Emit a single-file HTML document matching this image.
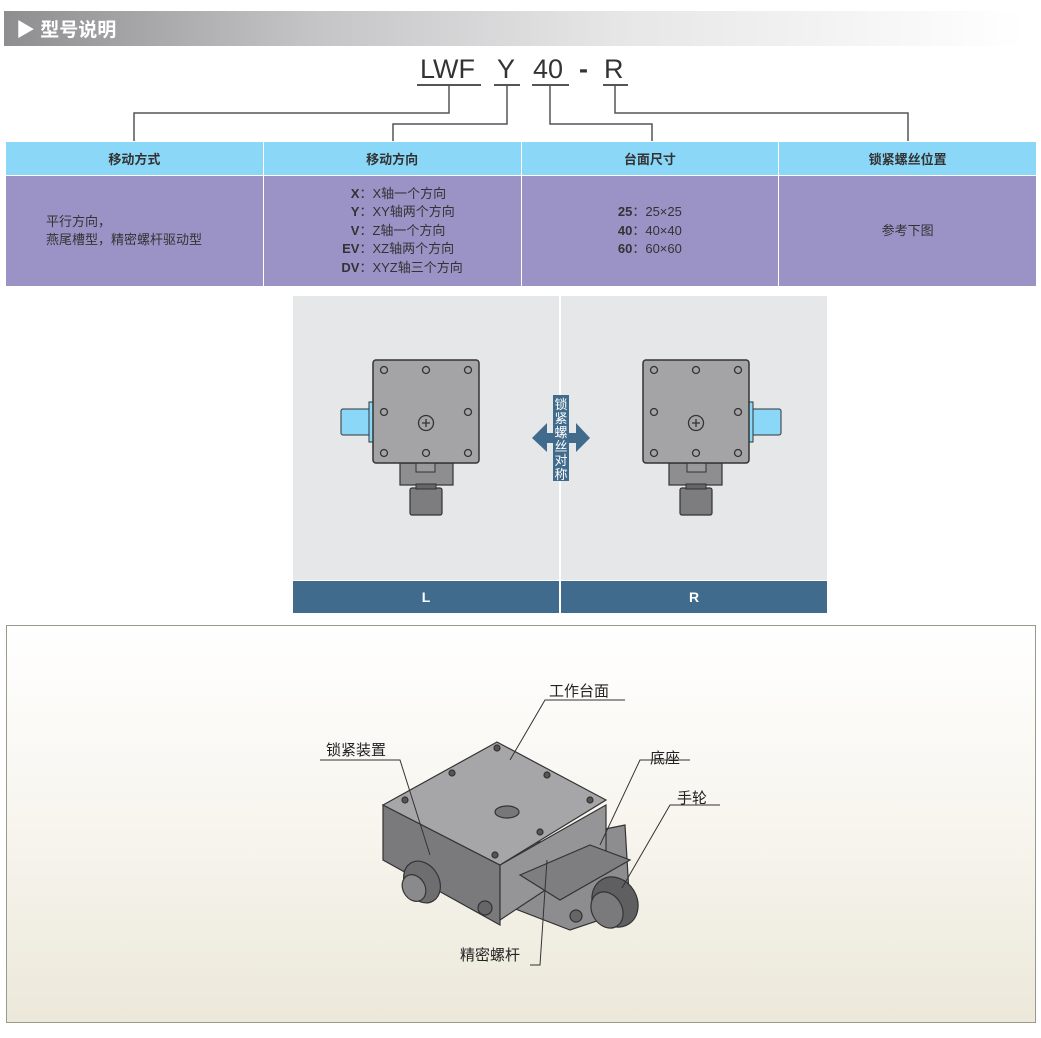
<!DOCTYPE html>
<html><head><meta charset="utf-8"><style>
body{margin:0;width:1041px;height:1038px;background:#fff;font-family:"Liberation Sans","Noto Sans CJK SC",sans-serif;position:relative;overflow:hidden}
.a{position:absolute}
.hdr{left:4px;top:11px;width:1020px;height:35px;background:linear-gradient(90deg,#8e8e90 0%,#c4c4c6 30%,#e6e6e7 60%,#fff 100%)}
.hdr span{position:absolute;left:12px;top:4px;color:#fff;font-size:19px;font-weight:bold}
.code{top:54px;font-size:27px;color:#333;font-family:"Liberation Sans",sans-serif}
.ln{background:#555}
table{position:absolute;left:5px;top:141px;border-collapse:collapse;width:1032px}
td{border:1px solid #fff;text-align:center;font-size:13px;color:#333;width:25%;padding:0}
tr.h td{background:#8ad7f7;height:33px;font-weight:bold;font-size:13px}
tr.b td{background:#9b93c6;height:110px;line-height:18.5px}
</style></head><body>
<div class="a hdr"><span>▶ 型号说明</span></div>
<div class="a code" style="left:420px">LWF</div>
<div class="a code" style="left:497px">Y</div>
<div class="a code" style="left:533px">40</div>
<div class="a code" style="left:579px;font-weight:bold">-</div>
<div class="a code" style="left:604px">R</div>
<div class="a ln" style="left:417px;top:84px;width:64px;height:2px"></div>
<div class="a ln" style="left:494px;top:84px;width:26px;height:2px"></div>
<div class="a ln" style="left:532px;top:84px;width:37px;height:2px"></div>
<div class="a ln" style="left:603px;top:84px;width:25px;height:2px"></div>
<svg class="a" style="left:0;top:0" width="1041" height="145"><g stroke="#555" stroke-width="1.5" fill="none">
<polyline points="449,85 449,113 134,113 134,142"/>
<polyline points="507,85 507,124 393,124 393,142"/>
<polyline points="550,85 550,124 652,124 652,142"/>
<polyline points="615,85 615,113 908,113 908,142"/>
</g></svg>
<table>
<tr class="h"><td>移动方式</td><td>移动方向</td><td>台面尺寸</td><td>锁紧螺丝位置</td></tr>
<tr class="b"><td style="text-align:left;padding-left:40px">平行方向，<br>燕尾槽型，精密螺杆驱动型</td>
<td><div style="display:inline-block;text-align:left"><b style="display:inline-block;width:38px;text-align:right">X</b>：X轴一个方向<br><b style="display:inline-block;width:38px;text-align:right">Y</b>：XY轴两个方向<br><b style="display:inline-block;width:38px;text-align:right">V</b>：Z轴一个方向<br><b style="display:inline-block;width:38px;text-align:right">EV</b>：XZ轴两个方向<br><b style="display:inline-block;width:38px;text-align:right">DV</b>：XYZ轴三个方向</div></td>
<td><b>25</b>：25×25<br><b>40</b>：40×40<br><b>60</b>：60×60</td><td>参考下图</td></tr>
</table>
<div class="a" style="left:293px;top:296px;width:266px;height:284px;background:#e6e7e9"></div>
<div class="a" style="left:561px;top:296px;width:266px;height:284px;background:#e6e7e9"></div>
<div class="a" style="left:293px;top:581px;width:266px;height:32px;background:#416b8d;color:#fff;font-weight:bold;font-size:14px;text-align:center;line-height:32px">L</div>
<div class="a" style="left:561px;top:581px;width:266px;height:32px;background:#416b8d;color:#fff;font-weight:bold;font-size:14px;text-align:center;line-height:32px">R</div>
<svg class="a" style="left:290px;top:295px" width="540" height="320">
<defs><g id="st">
<rect x="110" y="168" width="53" height="22" fill="#8e8e90" stroke="#333" stroke-width="1.2"/>
<rect x="126" y="168" width="19" height="9" fill="#9a9a9c" stroke="#333"/>
<rect x="120" y="193" width="32" height="27" rx="2" fill="#7d7d80" stroke="#333" stroke-width="1.2"/>
<rect x="126" y="189" width="20" height="5" fill="#666" stroke="#333"/>
<rect x="51" y="114" width="30" height="26" rx="2" fill="#8ad7f7" stroke="#333"/>
<rect x="79" y="107" width="5" height="40" fill="#8ad7f7" stroke="#333"/>
<rect x="83" y="65" width="106" height="103" rx="3" fill="#a4a4a7" stroke="#333" stroke-width="1.5"/>
<g fill="none" stroke="#333" stroke-width="1.3">
<circle cx="94" cy="75" r="3.5"/><circle cx="136" cy="75" r="3.5"/><circle cx="178" cy="75" r="3.5"/>
<circle cx="94" cy="117" r="3.5"/><circle cx="178" cy="117" r="3.5"/>
<circle cx="94" cy="158" r="3.5"/><circle cx="136" cy="158" r="3.5"/><circle cx="178" cy="158" r="3.5"/>
<circle cx="136" cy="128" r="7.5"/><path d="M132 128h8M136 124v8"/></g>
</g></defs>
<use href="#st"/>
<g transform="translate(542 0) scale(-1 1)"><use href="#st"/></g>
<polygon points="242,143 257,128 257,138 286,138 286,128 300,143 286,157 286,148 257,148 257,157" fill="#416b8d"/>
<rect x="263" y="100" width="16" height="86" fill="#416b8d"/>
<g fill="#fff" font-size="13" text-anchor="middle">
<text x="271" y="114">锁</text><text x="271" y="128">紧</text><text x="271" y="142">螺</text>
<text x="271" y="156">丝</text><text x="271" y="170">对</text><text x="271" y="184">称</text></g>
</svg>
<div class="a" style="left:6px;top:625px;width:1028px;height:396px;border:1px solid #9a9a8a;background:linear-gradient(180deg,#fff 0%,#f7f5ee 50%,#ece8da 100%)"></div>
<svg class="a" style="left:0;top:620px" width="1041" height="400">
<g stroke="#333" stroke-width="1.2">
<polygon points="500,230 625,205 630,290 570,310 505,285" fill="#8d8d90"/>
<polygon points="383,185 500,245 500,305 383,240" fill="#7a7a7d"/>
<polygon points="500,245 606,185 606,230 500,300" fill="#959598"/>
<polygon points="383,185 497,122 606,180 500,245" fill="#a6a6a9"/>
<ellipse cx="507" cy="192" rx="12" ry="6" fill="#777"/>
<circle cx="497" cy="128" r="3" fill="#555"/><circle cx="452" cy="153" r="3" fill="#555"/><circle cx="405" cy="180" r="3" fill="#555"/>
<circle cx="547" cy="155" r="3" fill="#555"/><circle cx="590" cy="180" r="3" fill="#555"/><circle cx="540" cy="212" r="3" fill="#555"/><circle cx="495" cy="235" r="3" fill="#555"/>
<polygon points="520,255 590,225 630,240 560,280" fill="#7e7e81"/>
<ellipse cx="422" cy="262" rx="17" ry="22" fill="#6e6e70" transform="rotate(-30 422 262)"/>
<ellipse cx="414" cy="268" rx="11" ry="14" fill="#8a8a8c" transform="rotate(-30 414 268)"/>
<ellipse cx="615" cy="282" rx="22" ry="26" fill="#5f5f62" transform="rotate(-30 615 282)"/>
<ellipse cx="607" cy="290" rx="15" ry="19" fill="#7a7a7d" transform="rotate(-30 607 290)"/>
<circle cx="485" cy="288" r="7" fill="#666"/><circle cx="576" cy="296" r="6" fill="#666"/>
</g>
<g stroke="#333" stroke-width="1" fill="none">
<polyline points="625,80 545,80 510,140"/>
<polyline points="320,140 400,140 430,235"/>
<polyline points="690,140 640,140 600,225"/>
<polyline points="720,185 670,185 622,268"/>
<polyline points="530,345 540,345 547,240"/>
</g>
<g font-size="15" fill="#222">
<text x="549" y="76">工作台面</text>
<text x="326" y="135">锁紧装置</text>
<text x="650" y="143">底座</text>
<text x="677" y="183">手轮</text>
<text x="460" y="340">精密螺杆</text>
</g>
</svg>
</body></html>
